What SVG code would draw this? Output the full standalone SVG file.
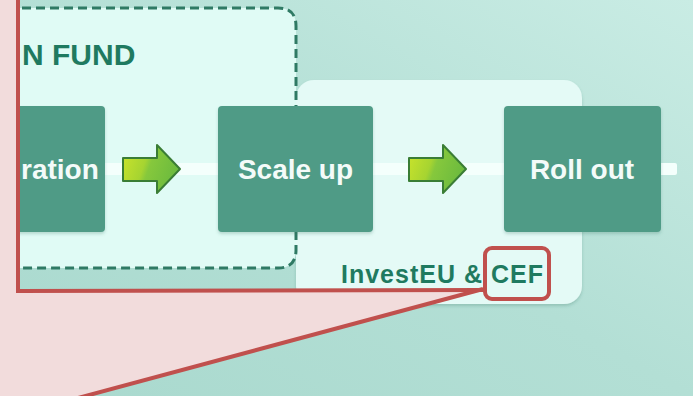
<svg xmlns="http://www.w3.org/2000/svg" width="693" height="396" viewBox="0 0 693 396">
  <defs>
    <linearGradient id="bg" x1="1" y1="0" x2="0" y2="1">
      <stop offset="0" stop-color="#c9ece4"/>
      <stop offset="0.5" stop-color="#b3dfd5"/>
      <stop offset="1" stop-color="#a9d9ce"/>
    </linearGradient>
    <linearGradient id="arrowFill" x1="0" y1="0" x2="1" y2="0.3">
      <stop offset="0" stop-color="#cde52a"/>
      <stop offset="0.45" stop-color="#a6d431"/>
      <stop offset="0.55" stop-color="#86c83c"/>
      <stop offset="1" stop-color="#6dbb3e"/>
    </linearGradient>
    <filter id="sh" x="-10%" y="-10%" width="120%" height="130%">
      <feDropShadow dx="0" dy="2" stdDeviation="1.5" flood-color="#2d6e5e" flood-opacity="0.25"/>
    </filter>
  </defs>
  <style>
    .node rect { fill: #4f9b86; }
    .nodeText { font-family: "Liberation Sans", Arial, sans-serif; font-weight: bold; font-size: 28px; fill: #f4fbf9; }
    .title { font-family: "Liberation Sans", Arial, sans-serif; font-weight: bold; fill: #1f7a60; }
    .arrow { fill: url(#arrowFill); stroke: #3a7d35; stroke-width: 2; stroke-linejoin: round; }
    .bar { fill: #f4fffc; }
    .red { fill: none; stroke: #c0504d; stroke-width: 4; }
  </style>

  <!-- background -->
  <rect width="693" height="396" fill="url(#bg)"/>

  <!-- InvestEU & CEF group box -->
  <g id="investeu-box">
    <rect x="296" y="80" width="286" height="224" rx="18" fill="#e4faf6" filter="url(#sh)"/>
    <text class="title" x="341" y="283" font-size="25" letter-spacing="1" fill="#2a7d68">InvestEU &amp; CEF</text>
  </g>

  <!-- Innovation fund dashed box -->
  <g id="fund-box">
    <path d="M -20 8 H 278 Q 296 8 296 26 V 250 Q 296 268 278 268 H -20 Z" fill="#e0fbf5" stroke="#2f7a64" stroke-width="3" stroke-dasharray="9 5"/>
    <text class="title" x="22" y="65" font-size="30">N FUND</text>
  </g>

  <!-- connectors -->
  <g id="connectors">
    <rect class="bar" x="100" y="163" width="125" height="12"/>
    <rect class="bar" x="368" y="163" width="142" height="12"/>
    <rect class="bar" x="655" y="163" width="22" height="12" rx="2"/>
    <path class="arrow" d="M 123 158 H 157 V 145 L 180 169 L 157 193 V 181 H 123 Z"/>
    <path class="arrow" d="M 409 158 H 443 V 145 L 466 169 L 443 193 V 181 H 409 Z"/>
  </g>

  <!-- nodes -->
  <g id="node-demonstration" class="node">
    <rect x="-40" y="106" width="145" height="126" rx="4" filter="url(#sh)"/>
    <text class="nodeText" x="21" y="179">ration</text>
  </g>
  <g id="node-scale-up" class="node">
    <rect x="218" y="106" width="155" height="126" rx="4" filter="url(#sh)"/>
    <text class="nodeText" x="295.5" y="179" text-anchor="middle">Scale up</text>
  </g>
  <g id="node-roll-out" class="node">
    <rect x="504" y="106" width="157" height="126" rx="4" filter="url(#sh)"/>
    <text class="nodeText" x="582" y="179" text-anchor="middle">Roll out</text>
  </g>

  <!-- callout overlay -->
  <g id="callout">
    <path d="M 0 0 H 18 V 291 H 483 L 80 396 H 0 Z" fill="#f2dcdc"/>
    <polyline class="red" points="18,0 18,291 483,290"/>
    <line class="red" x1="483" y1="289" x2="78" y2="398"/>
    <rect class="red" x="485" y="248" width="64" height="51" rx="7"/>
  </g>
</svg>
